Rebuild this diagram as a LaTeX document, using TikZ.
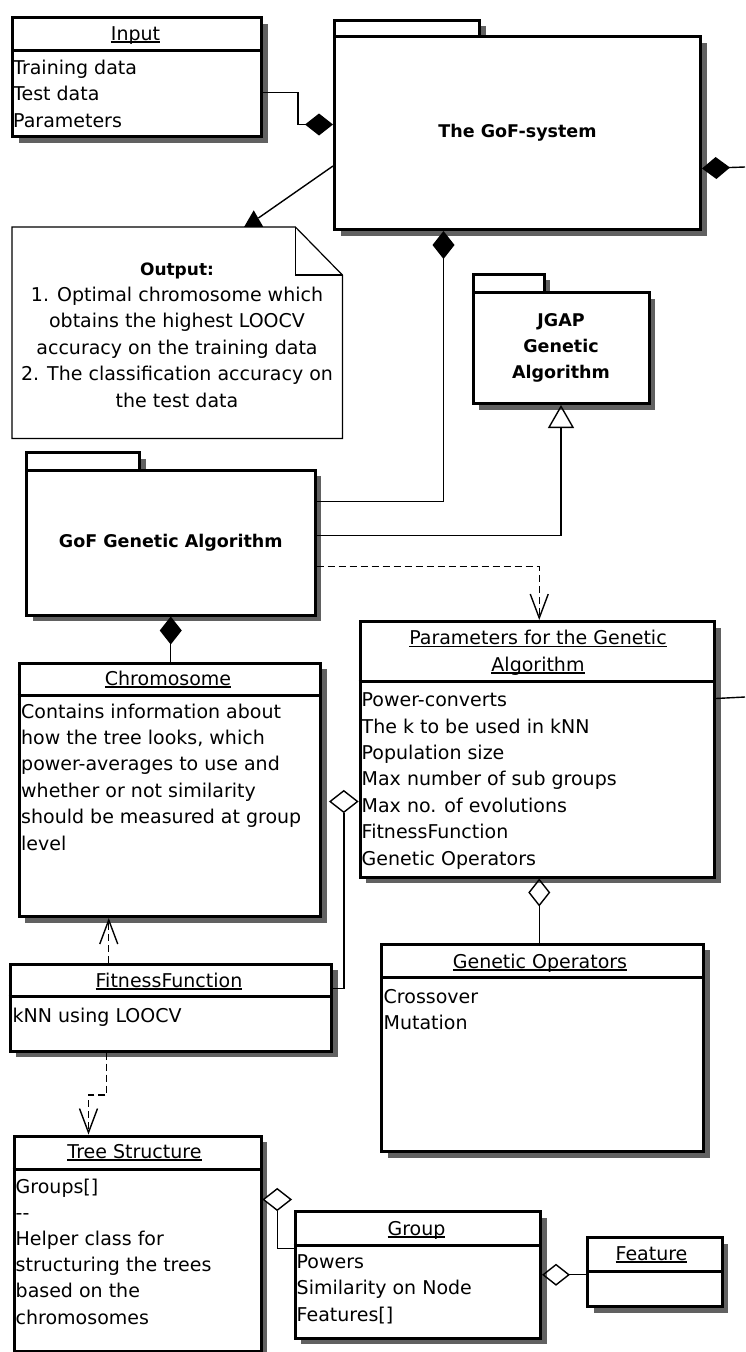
\documentclass[tikz,border=0pt]{standalone}
\usepackage{fontspec}
\setmainfont{DejaVu Sans}
\usepackage{tikz}
\usetikzlibrary{arrows.meta,shapes.geometric,shadows}

\definecolor{shadowgray}{gray}{0.38}
\newsavebox{\ulbox}
\newcommand{\ultitle}[1]{\sbox{\ulbox}{#1}\rlap{\rule[-2.5pt]{\wd\ulbox}{1.2pt}}\usebox{\ulbox}}

% text nodes are placed by the baseline of their last line
\tikzset{
  classbox/.style={draw,line width=3pt,fill=white,inner sep=0pt,anchor=north west,
    drop shadow={shadow xshift=6pt,shadow yshift=-6pt,fill=shadowgray,opacity=1}},
  sepline/.style={line width=3pt},
  notebox/.style={inner sep=0pt,anchor=north west},
  pkglabel/.style={font=\fontsize{17.5}{26.2}\selectfont\bfseries,align=center},
  titletext/.style={anchor=base,inner sep=0pt,align=center},
  attrtext/.style={anchor=base west,inner sep=0pt,align=left},
  assoc/.style={line width=1.4pt},
  comp/.style={assoc,arrows={Diamond[length=28pt,width=22pt]-}},
  agg/.style={assoc,arrows={Diamond[open,length=28pt,width=22pt]-}},
  gen/.style={assoc,arrows={-Triangle[open,length=23pt,width=26pt]}},
  dep/.style={assoc,dash pattern=on 7pt off 4pt,arrows={-Straight Barb[length=24pt,width=18pt]}},
  aggnode/.style={diamond,draw,line width=1.4pt,fill=white,inner sep=0pt,minimum width=28pt,minimum height=22pt},
  tiptri/.style={regular polygon,regular polygon sides=3,fill=black,inner sep=0pt,minimum size=22pt},
}

\begin{document}
\begin{tikzpicture}[x=1pt,y=-1pt,font=\fontsize{19}{26.4}\selectfont]
  \useasboundingbox (0,0) rectangle (745,1352);
  % free ends of the two links that leave the picture
  \coordinate (offsys) at (745,167);
  \coordinate (offparams) at (745,697);

  % packages
  \node[classbox,minimum width=145pt,minimum height=16.5pt] (gofsystab) at (333,18.5) {};
  \node[classbox,minimum width=366pt,minimum height=193pt,pkglabel] (gofsys) at (333,35) {The GoF-system};
  \node[classbox,minimum width=113pt,minimum height=17.5pt] (gofgatab) at (25,451) {};
  \node[classbox,minimum width=288.5pt,minimum height=145pt,pkglabel] (gofga) at (25,468.5) {GoF Genetic Algorithm};
  \node[classbox,minimum width=71pt,minimum height=18.5pt] (jgaptab) at (471.5,272.5) {};
  \node[classbox,minimum width=176pt,minimum height=111pt,pkglabel] (jgap) at (471.5,291) {JGAP\\Genetic\\Algorithm};

  % input
  \node[classbox,minimum width=249pt,minimum height=119pt] (input) at (11,16) {};
  \draw[sepline] (11,50) -- (260,50);
  \node[titletext] (inputtitle) at (135.5,40) {\ultitle{Input}};
  \node[attrtext] (inputattr) at (13,127) {Training data\\Test data\\Parameters};

  % output note with folded corner
  \node[notebox,minimum width=330pt,minimum height=211pt] (output) at (12,227) {};
  \draw[line width=1.2pt,fill=white] (output.north west) -- ([xshift=-47pt]output.north east)
    -- ([yshift=-48pt]output.north east) -- (output.south east) -- (output.south west) -- cycle;
  \draw[line width=1.2pt] ([xshift=-47pt]output.north east) |- ([yshift=-48pt]output.north east);
  \node[titletext] (outputtext) at (177,407) {{\fontsize{17}{26.4}\selectfont\bfseries Output:}\\
    1. Optimal chromosome which\\obtains the highest LOOCV\\accuracy on the training data\\
    2. The classification accuracy on\\the test data};

  % parameters
  \node[classbox,minimum width=354.5pt,minimum height=255.5pt] (params) at (358.5,620) {};
  \draw[sepline] (358.5,681) -- (713,681);
  \node[titletext] (paramstitle) at (538,671) {\ultitle{Parameters for the Genetic}\\\ultitle{Algorithm}};
  \node[attrtext] (paramsattr) at (361.5,865) {Power-converts\\The k to be used in kNN\\Population size\\
    Max number of sub groups\\Max no. of evolutions\\FitnessFunction\\Genetic Operators};

  % genetic operators
  \node[classbox,minimum width=322pt,minimum height=207.5pt] (genops) at (380,942.5) {};
  \draw[sepline] (380,977.5) -- (702,977.5);
  \node[titletext] (genopstitle) at (540,968) {\ultitle{Genetic Operators}};
  \node[attrtext] (genopsattr) at (383.5,1029.5) {Crossover\\Mutation};

  % chromosome
  \node[classbox,minimum width=301.5pt,minimum height=253.5pt] (chrom) at (17.5,661.5) {};
  \draw[sepline] (17.5,695) -- (319,695);
  \node[titletext] (chromtitle) at (168,685) {\ultitle{Chromosome}};
  \node[attrtext] (chromattr) at (21,850) {Contains information about\\how the tree looks, which\\
    power-averages to use and\\whether or not similarity\\should be measured at group\\level};

  % fitness function
  \node[classbox,minimum width=321.5pt,minimum height=87pt] (ff) at (8.5,962.5) {};
  \draw[sepline] (8.5,996.5) -- (330,996.5);
  \node[titletext] (fftitle) at (169,987) {\ultitle{FitnessFunction}};
  \node[attrtext] (ffattr) at (12.5,1022) {kNN using LOOCV};

  % tree structure
  \node[classbox,minimum width=247pt,minimum height=215.5pt] (tree) at (12.5,1134.5) {};
  \draw[sepline] (12.5,1169.5) -- (259.5,1169.5);
  \node[titletext] (treetitle) at (134.5,1158) {\ultitle{Tree Structure}};
  \node[attrtext,font=\fontsize{19}{26.2}\selectfont] (treeattr) at (15.5,1324) {Groups[]\\{-}{-}\\
    Helper class for\\structuring the trees\\based on the\\chromosomes};

  % group and feature
  \node[classbox,minimum width=245.5pt,minimum height=126.5pt] (group) at (293.5,1210) {};
  \draw[sepline] (293.5,1245) -- (539,1245);
  \node[titletext] (grouptitle) at (416.5,1235) {\ultitle{Group}};
  \node[attrtext] (groupattr) at (296.5,1321) {Powers\\Similarity on Node\\Features[]};
  \node[classbox,minimum width=134.5pt,minimum height=69pt] (feature) at (586,1236) {};
  \draw[sepline] (586,1271) -- (720.5,1271);
  \node[titletext] (featuretitle) at (651.5,1260) {\ultitle{Feature}};

  % links
  \draw[comp] ([yshift=8.5pt]gofsys.west) -- ++(-35,0) |- ([yshift=-15.5pt]input.east);
  \draw[comp] ([yshift=-35.5pt]gofsys.east) -- (offsys);
  \node[tiptri,anchor=south] (outtip) at ([xshift=76.5pt]output.north) {};
  \draw[assoc] ([yshift=-33pt]gofsys.west) -- (outtip);
  \draw[comp] ([xshift=-74pt]gofsys.south) |- ([yshift=41pt]gofga.east);
  \draw[gen] ([yshift=7pt]gofga.east) -| (jgap.south);
  \draw[dep] ([yshift=-24pt]gofga.east) -| ([xshift=2pt]params.north);
  \draw[comp] (gofga.south) -- (gofga.south |- chrom.north);
  \draw[assoc] ([yshift=50.75pt]params.east) -- (offparams);
  \draw[agg] ([xshift=2pt]params.south) -- ([xshift=2pt]params.south |- genops.north);
  \node[aggnode,anchor=east] (paramsagg) at ([yshift=-52.25pt]params.west) {};
  \draw[assoc] ([yshift=19pt]ff.east) -| (paramsagg.south);
  \draw[dep] ([xshift=-62pt]ff.north) -- ([xshift=-62pt]ff.north |- chrom.south);
  \draw[dep] ([xshift=-64pt]ff.south) -- ++(0,42.5) -| ([xshift=-49pt]tree.north);
  \node[aggnode,anchor=west] (treeagg) at ([yshift=44.25pt]tree.east) {};
  \draw[assoc] (treeagg.south) |- ([yshift=26.25pt]group.west);
  \draw[agg] (group.east) -- (group.east -| feature.west);
\end{tikzpicture}
\end{document}
